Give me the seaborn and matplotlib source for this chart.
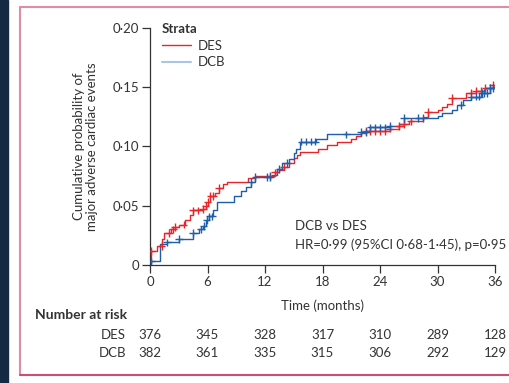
import numpy as np
import pandas as pd
import matplotlib
matplotlib.use("Agg")
import matplotlib.pyplot as plt
from matplotlib.lines import Line2D
from matplotlib.patches import Rectangle
import seaborn as sns

# ---- data ----
des_time = [0, 0.1, 0.7, 1.3, 1.5, 2.2, 2.6, 3.0, 3.7, 4.2, 4.5, 5.5, 5.8, 6.0, 6.3, 6.8, 7.2, 7.6, 8.0,
            10.2, 11.0, 13.0, 13.5, 14.0, 14.5, 15.0, 15.3, 15.6, 17.5, 18.5, 19.5, 21.0, 21.5, 22.0, 22.5,
            25.0, 26.0, 26.5, 27.0, 28.5, 29.0, 30.0, 30.5, 31.0, 31.5, 33.0, 34.0, 35.0, 35.8, 36.0]
des_prob = [0.002, 0.012, 0.016, 0.022, 0.027, 0.030, 0.032, 0.034, 0.038, 0.042, 0.046, 0.047, 0.050, 0.053,
            0.058, 0.061, 0.065, 0.068, 0.070, 0.073, 0.075, 0.078, 0.080, 0.083, 0.086, 0.090, 0.093, 0.095,
            0.098, 0.101, 0.104, 0.106, 0.109, 0.111, 0.113, 0.115, 0.117, 0.119, 0.121, 0.125, 0.129, 0.131,
            0.133, 0.136, 0.141, 0.145, 0.147, 0.149, 0.152, 0.152]
dcb_time = [0, 0.1, 1.0, 1.8, 3.0, 4.5, 5.1, 5.5, 5.8, 6.2, 6.6, 7.0, 8.8, 9.5, 10.0, 10.5, 11.0, 12.7, 13.2,
            13.8, 14.5, 15.0, 15.2, 15.6, 17.3, 18.5, 22.0, 23.0, 25.0, 26.0, 26.5, 30.0, 30.5, 31.5, 32.0,
            32.7, 33.5, 34.5, 35.5, 35.9, 36.0]
dcb_prob = [0.0, 0.003, 0.018, 0.019, 0.022, 0.027, 0.030, 0.033, 0.038, 0.041, 0.046, 0.053, 0.058, 0.062,
            0.066, 0.070, 0.074, 0.076, 0.081, 0.086, 0.089, 0.094, 0.098, 0.104, 0.106, 0.110, 0.112, 0.116,
            0.117, 0.119, 0.124, 0.126, 0.128, 0.131, 0.135, 0.139, 0.142, 0.145, 0.149, 0.150, 0.150]
des_censor = [0.1, 1.2, 2.0, 2.4, 2.6, 3.5, 4.5, 5.0, 5.5, 5.8, 6.0, 6.3, 6.6, 7.2, 12.5, 13.0, 14.0,
              22.5, 23.0, 23.5, 24.0, 24.5, 25.0, 26.0, 26.5, 27.2, 29.0, 31.5, 33.5, 34.0, 34.5, 35.0, 35.5, 35.8]
dcb_censor = [0.1, 1.8, 3.0, 4.5, 5.3, 5.6, 5.9, 6.2, 6.5, 10.5, 11.0, 12.2, 12.5, 13.5, 14.3, 15.8, 16.3,
              16.8, 17.2, 20.5, 22.0, 22.5, 23.0, 23.5, 24.0, 24.5, 25.0, 26.5, 28.0, 28.5, 32.5, 33.5, 34.0,
              34.3, 34.6, 34.9, 35.2, 35.5, 35.8]
risk_times = [0, 6, 12, 18, 24, 30, 36]
risk_des = [376, 345, 328, 317, 310, 289, 128]
risk_dcb = [382, 361, 335, 315, 306, 292, 129]
y_ticks = [0, 0.05, 0.10, 0.15, 0.20]
y_ticklabels = ["0", "0·05", "0·10", "0·15", "0·20"]

RED = "#e8262a"
BLUE = "#1f5ea8"
LIGHTBLUE = "#a9c6e2"
FS = 9.5

sns.set_style("white")
plt.rcParams['font.family'] = ['Lato', 'DejaVu Sans']

curves = pd.concat([
    pd.DataFrame({"time": des_time, "prob": des_prob, "arm": "DES"}),
    pd.DataFrame({"time": dcb_time, "prob": dcb_prob, "arm": "DCB"}),
])

def step_at(times, probs, t):
    idx = np.searchsorted(times, t, side="right") - 1
    return np.asarray(probs)[idx]

cens = pd.concat([
    pd.DataFrame({"time": des_censor, "prob": step_at(des_time, des_prob, des_censor), "arm": "DES"}),
    pd.DataFrame({"time": dcb_censor, "prob": step_at(dcb_time, dcb_prob, dcb_censor), "arm": "DCB"}),
])

fig = plt.figure(figsize=(5.09, 3.83), dpi=100)
fig.patch.set_facecolor("white")

# decorative frame
fig.add_artist(Rectangle((0, 0), 8 / 509, 1, transform=fig.transFigure, color="#132a42", zorder=0))
fig.add_artist(Line2D([20 / 509, 20 / 509], [1 - 375 / 383, 1 - 7 / 383], transform=fig.transFigure,
                      color="#e08ca5", lw=1.5))
fig.add_artist(Line2D([20 / 509, 1], [1 - 7 / 383, 1 - 7 / 383], transform=fig.transFigure,
                      color="#e08ca5", lw=1.5))
fig.add_artist(Line2D([20 / 509, 1], [1 - 375 / 383, 1 - 375 / 383], transform=fig.transFigure,
                      color="#c9506e", lw=1.5))

ax = fig.add_axes([150 / 509, 1 - 265 / 383, 345 / 509, (265 - 27.7) / 383])
palette = {"DES": RED, "DCB": BLUE}
sns.lineplot(data=curves, x="time", y="prob", hue="arm", palette=palette, estimator=None, sort=False,
             drawstyle="steps-post", lw=1.0, legend=False, ax=ax)
sns.scatterplot(data=cens, x="time", y="prob", hue="arm", palette=palette, marker="+", s=30,
                linewidth=1.0, legend=False, ax=ax, zorder=3)

ax.set_xlim(0, 36)
ax.set_ylim(0, 0.20)
ax.set_xticks(risk_times)
ax.set_xticklabels([str(t) for t in risk_times])
ax.set_yticks(y_ticks)
ax.set_yticklabels(y_ticklabels)
ax.set_xlabel("Time (months)", fontsize=FS, color="#333333", labelpad=8)
ax.set_ylabel("Cumulative probability of\nmajor adverse cardiac events", fontsize=FS, color="#333333",
              labelpad=10, linespacing=1.15)
for s in ["top", "right"]:
    ax.spines[s].set_visible(False)
for s in ["left", "bottom"]:
    ax.spines[s].set_color("#333333")
    ax.spines[s].set_linewidth(0.9)
ax.tick_params(axis="both", direction="out", length=6, width=0.9, color="#333333",
               labelsize=FS, labelcolor="#333333", pad=2, left=True, bottom=True)
ax.patch.set_alpha(0)

handles = [Line2D([0], [0], color=RED, lw=1), Line2D([0], [0], color=LIGHTBLUE, lw=1.5)]
leg = ax.legend(handles, ["DES", "DCB"], title="Strata", loc="upper left", bbox_to_anchor=(0.0, 1.07),
                frameon=False, fontsize=FS, title_fontsize=FS, handlelength=2.2, handletextpad=0.5,
                labelspacing=0.35, alignment="left")
leg.get_title().set_fontweight("bold")
leg.get_title().set_color("#333333")
for t in leg.get_texts():
    t.set_color("#333333")

ax.text(0.42, 0.165, "DCB vs DES", transform=ax.transAxes, fontsize=FS, color="#333333", va="center")
ax.text(0.42, 0.085, "HR=0·99 (95%CI 0·68-1·45), p=0·95", transform=ax.transAxes, fontsize=FS,
        color="#333333", va="center")

# number at risk table
fig.text(35 / 509, 1 - 315 / 383, "Number at risk", fontsize=10, fontweight="bold", color="#333333",
         va="center")
for label, vals, ypix in [("DES", risk_des, 335), ("DCB", risk_dcb, 353)]:
    yfig = 1 - ypix / 383
    fig.text(126 / 509, yfig, label, fontsize=FS, color="#333333", ha="right", va="center")
    for t, v in zip(risk_times, vals):
        xd = ax.transData.transform((t, 0))[0]
        xf = fig.transFigure.inverted().transform((xd, 0))[0]
        fig.text(xf, yfig, str(v), fontsize=FS, color="#333333", ha="center", va="center")

fig.savefig("out.png", dpi=100)
